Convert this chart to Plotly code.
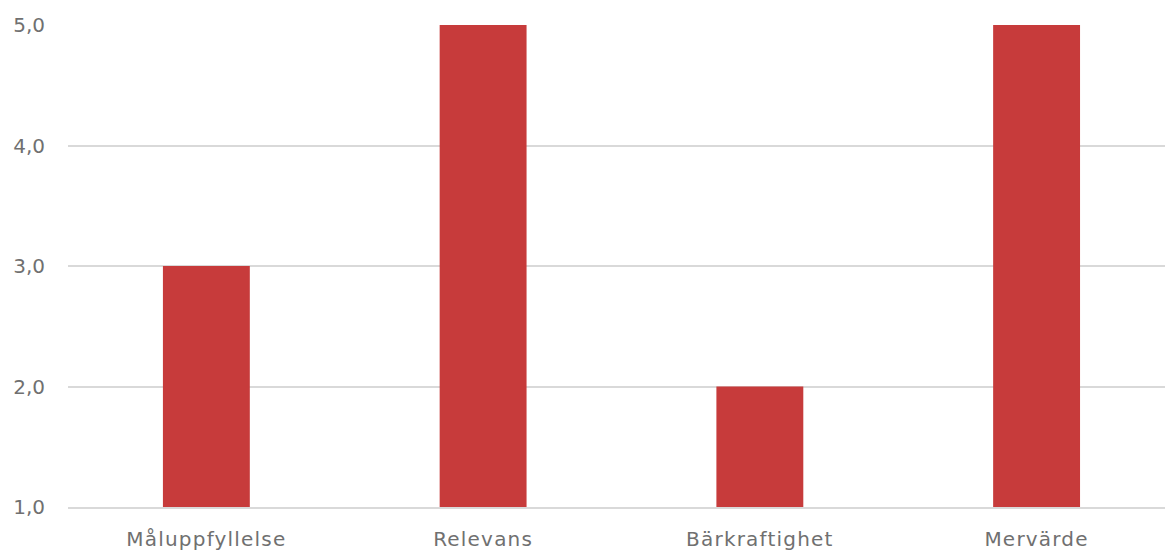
import plotly.graph_objects as go

categories = ["Måluppfyllelse", "Relevans", "Bärkraftighet", "Mervärde"]
values = [3.0, 5.0, 2.0, 5.0]
y_ticks = [1, 2, 3, 4, 5]

fig = go.Figure(go.Bar(
    x=categories, y=values, marker_color="#C73B3B", width=0.314,
    marker_line_width=0,
))
font = "DejaVu Sans"
txt = "#707070"
fig.update_layout(
    width=1165, height=551,
    margin=dict(l=68, r=0, t=25, b=44),
    plot_bgcolor="white", paper_bgcolor="white",
    separators=", ",
    showlegend=False,
    font=dict(family=font, size=20, color=txt),
)
fig.update_xaxes(range=[-0.5, 3.464], showgrid=False,
                 showline=True, linecolor="#D9D9D9", linewidth=1.5,
                 ticks="outside", ticklen=13, tickcolor="rgba(0,0,0,0)",
                 tickfont=dict(family=font, size=20, color=txt))
fig.update_yaxes(range=[1, 5], tickvals=y_ticks, tickformat=".1f",
                 showgrid=True, gridcolor="#D9D9D9", gridwidth=1.5,
                 zeroline=False, showline=False,
                 ticks="outside", ticklen=18, tickcolor="rgba(0,0,0,0)",
                 tickfont=dict(family=font, size=20, color=txt))
post = """
document.querySelectorAll('.xtick text').forEach(function(t){t.style.letterSpacing='1.2px';});
"""
fig.write_html("out.html", post_script=post)
